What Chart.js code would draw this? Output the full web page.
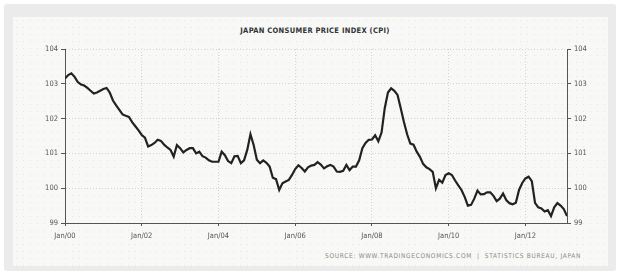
<!DOCTYPE html>
<html>
<head>
<meta charset="utf-8">
<script src="https://cdn.jsdelivr.net/npm/chart.js@4.4.1/dist/chart.umd.min.js"></script>
<style>
  html, body { margin: 0; padding: 0; background: #ffffff; }
  #wrap { position: relative; width: 620px; height: 275px; overflow: hidden; }
  #frame { position: absolute; left: 4px; top: 4px; width: 612px; height: 267px; background: #ebebeb; border-radius: 3px; }
  #panel {
    position: absolute; left: 13px; top: 17px; width: 595px; height: 249px;
    background-color: #f8f9f7;
    background-image: radial-gradient(#e4e6e2 0.6px, transparent 0.8px);
    background-size: 7px 7px;
  }
  #title {
    position: absolute; left: 0; width: 630px; top: 26px; text-align: center;
    font: bold 7.5px "Liberation Sans Narrow", "DejaVu Sans Condensed", sans-serif;
    color: #333; letter-spacing: 0.3px;
  }
  #source {
    position: absolute; right: 39px; top: 252px;
    font: 6.5px "Liberation Sans Narrow", "DejaVu Sans Condensed", sans-serif;
    color: #8a8a8a; letter-spacing: 0.7px;
  }
  canvas { position: absolute; left: 0; top: 0; }
</style>
</head>
<body>
<div id="wrap">
  <div id="frame"></div>
  <div id="panel"></div>
  <div id="title">JAPAN CONSUMER PRICE INDEX (CPI)</div>
  <div id="source">SOURCE: WWW.TRADINGECONOMICS.COM &nbsp;|&nbsp; STATISTICS BUREAU, JAPAN</div>
  <canvas id="cpiChart" width="620" height="275"></canvas>
</div>
<script>
// monthly CPI, Jan 2000 .. Jan 2013
const cpi = [
  103.15, 103.25, 103.30, 103.20, 103.05, 102.98, 102.95, 102.88, 102.80, 102.72, 102.75, 102.80,
  102.85, 102.88, 102.75, 102.52, 102.38, 102.25, 102.12, 102.08, 102.05, 101.90, 101.78, 101.66,
  101.53, 101.45, 101.20, 101.24, 101.30, 101.39, 101.36, 101.25, 101.17, 101.10, 100.91, 101.24,
  101.15, 101.03, 101.10, 101.15, 101.15, 101.00, 101.05, 100.92, 100.88, 100.80, 100.76, 100.76,
  100.76, 101.05, 100.95, 100.78, 100.72, 100.92, 100.93, 100.72, 100.80, 101.10, 101.55, 101.24,
  100.82, 100.72, 100.80, 100.73, 100.62, 100.30, 100.26, 99.95, 100.14, 100.19, 100.24, 100.38,
  100.55, 100.66, 100.58, 100.48, 100.60, 100.65, 100.67, 100.75, 100.68, 100.57, 100.63, 100.67,
  100.62, 100.48, 100.47, 100.50, 100.67, 100.52, 100.62, 100.62, 100.80, 101.15, 101.30, 101.39,
  101.40, 101.52, 101.35, 101.60, 102.30, 102.75, 102.87, 102.80, 102.68, 102.30, 101.90, 101.55,
  101.28, 101.25, 101.05, 100.90, 100.70, 100.60, 100.55, 100.47, 100.00, 100.24, 100.16, 100.38,
  100.43, 100.38, 100.22, 100.08, 99.95, 99.75, 99.50, 99.52, 99.70, 99.93, 99.82, 99.83,
  99.88, 99.88, 99.78, 99.63, 99.70, 99.85, 99.66, 99.57, 99.54, 99.58, 99.95, 100.15,
  100.28, 100.33, 100.20, 99.58, 99.45, 99.42, 99.33, 99.37, 99.20, 99.45, 99.57, 99.50,
  99.40, 99.20
];

// x ticks: month index since Jan 2000
const tickMonths = [0, 24, 48, 72, 96, 120, 144];
const tickLabels = ['Jan/00', 'Jan/02', 'Jan/04', 'Jan/06', 'Jan/08', 'Jan/10', 'Jan/12'];
const yTicks = [99, 100, 101, 102, 103, 104];

const points = cpi.map((v, i) => ({ x: i, y: v }));

const tickFont = { family: '"Liberation Sans Narrow", "DejaVu Sans Condensed", sans-serif', size: 7.5 };
const dotted = [1, 2];

new Chart(document.getElementById('cpiChart').getContext('2d'), {
  type: 'line',
  data: {
    datasets: [{
      data: points,
      borderColor: '#222222',
      borderWidth: 2.2,
      pointRadius: 0,
      tension: 0,
      fill: false
    }]
  },
  options: {
    responsive: false,
    animation: false,
    layout: { padding: { left: 0, right: 0, top: 49, bottom: 0 } },
    plugins: { legend: { display: false }, tooltip: { enabled: false }, title: { display: false } },
    scales: {
      x: {
        type: 'linear',
        min: 0,
        max: 157,
        afterBuildTicks: s => { s.ticks = tickMonths.map(v => ({ value: v })); },
        afterFit: s => { s.height = 52; },
        ticks: {
          font: tickFont,
          color: '#555',
          padding: 6,
          maxRotation: 0,
          autoSkip: false,
          callback: v => tickLabels[tickMonths.indexOf(v)]
        },
        grid: { color: '#d3d5d1', tickColor: '#555', tickLength: 3, tickBorderDash: [] },
        border: { display: true, color: '#555', width: 1, dash: dotted }
      },
      y: {
        position: 'left',
        min: 99,
        max: 104,
        afterBuildTicks: s => { s.ticks = yTicks.map(v => ({ value: v })); },
        afterFit: s => { s.width = 65; },
        ticks: { font: tickFont, color: '#555', padding: 3 },
        grid: { color: '#d3d5d1', tickColor: '#555', tickLength: 4, tickBorderDash: [] },
        border: { display: true, color: '#555', width: 1, dash: dotted }
      },
      y2: {
        position: 'right',
        min: 99,
        max: 104,
        afterBuildTicks: s => { s.ticks = yTicks.map(v => ({ value: v })); },
        afterFit: s => { s.width = 53; },
        ticks: { font: tickFont, color: '#555', padding: 3 },
        grid: { drawOnChartArea: false, tickColor: '#555', tickLength: 4 },
        border: { display: true, color: '#555', width: 1 }
      }
    }
  }
});
</script>
</body>
</html>
